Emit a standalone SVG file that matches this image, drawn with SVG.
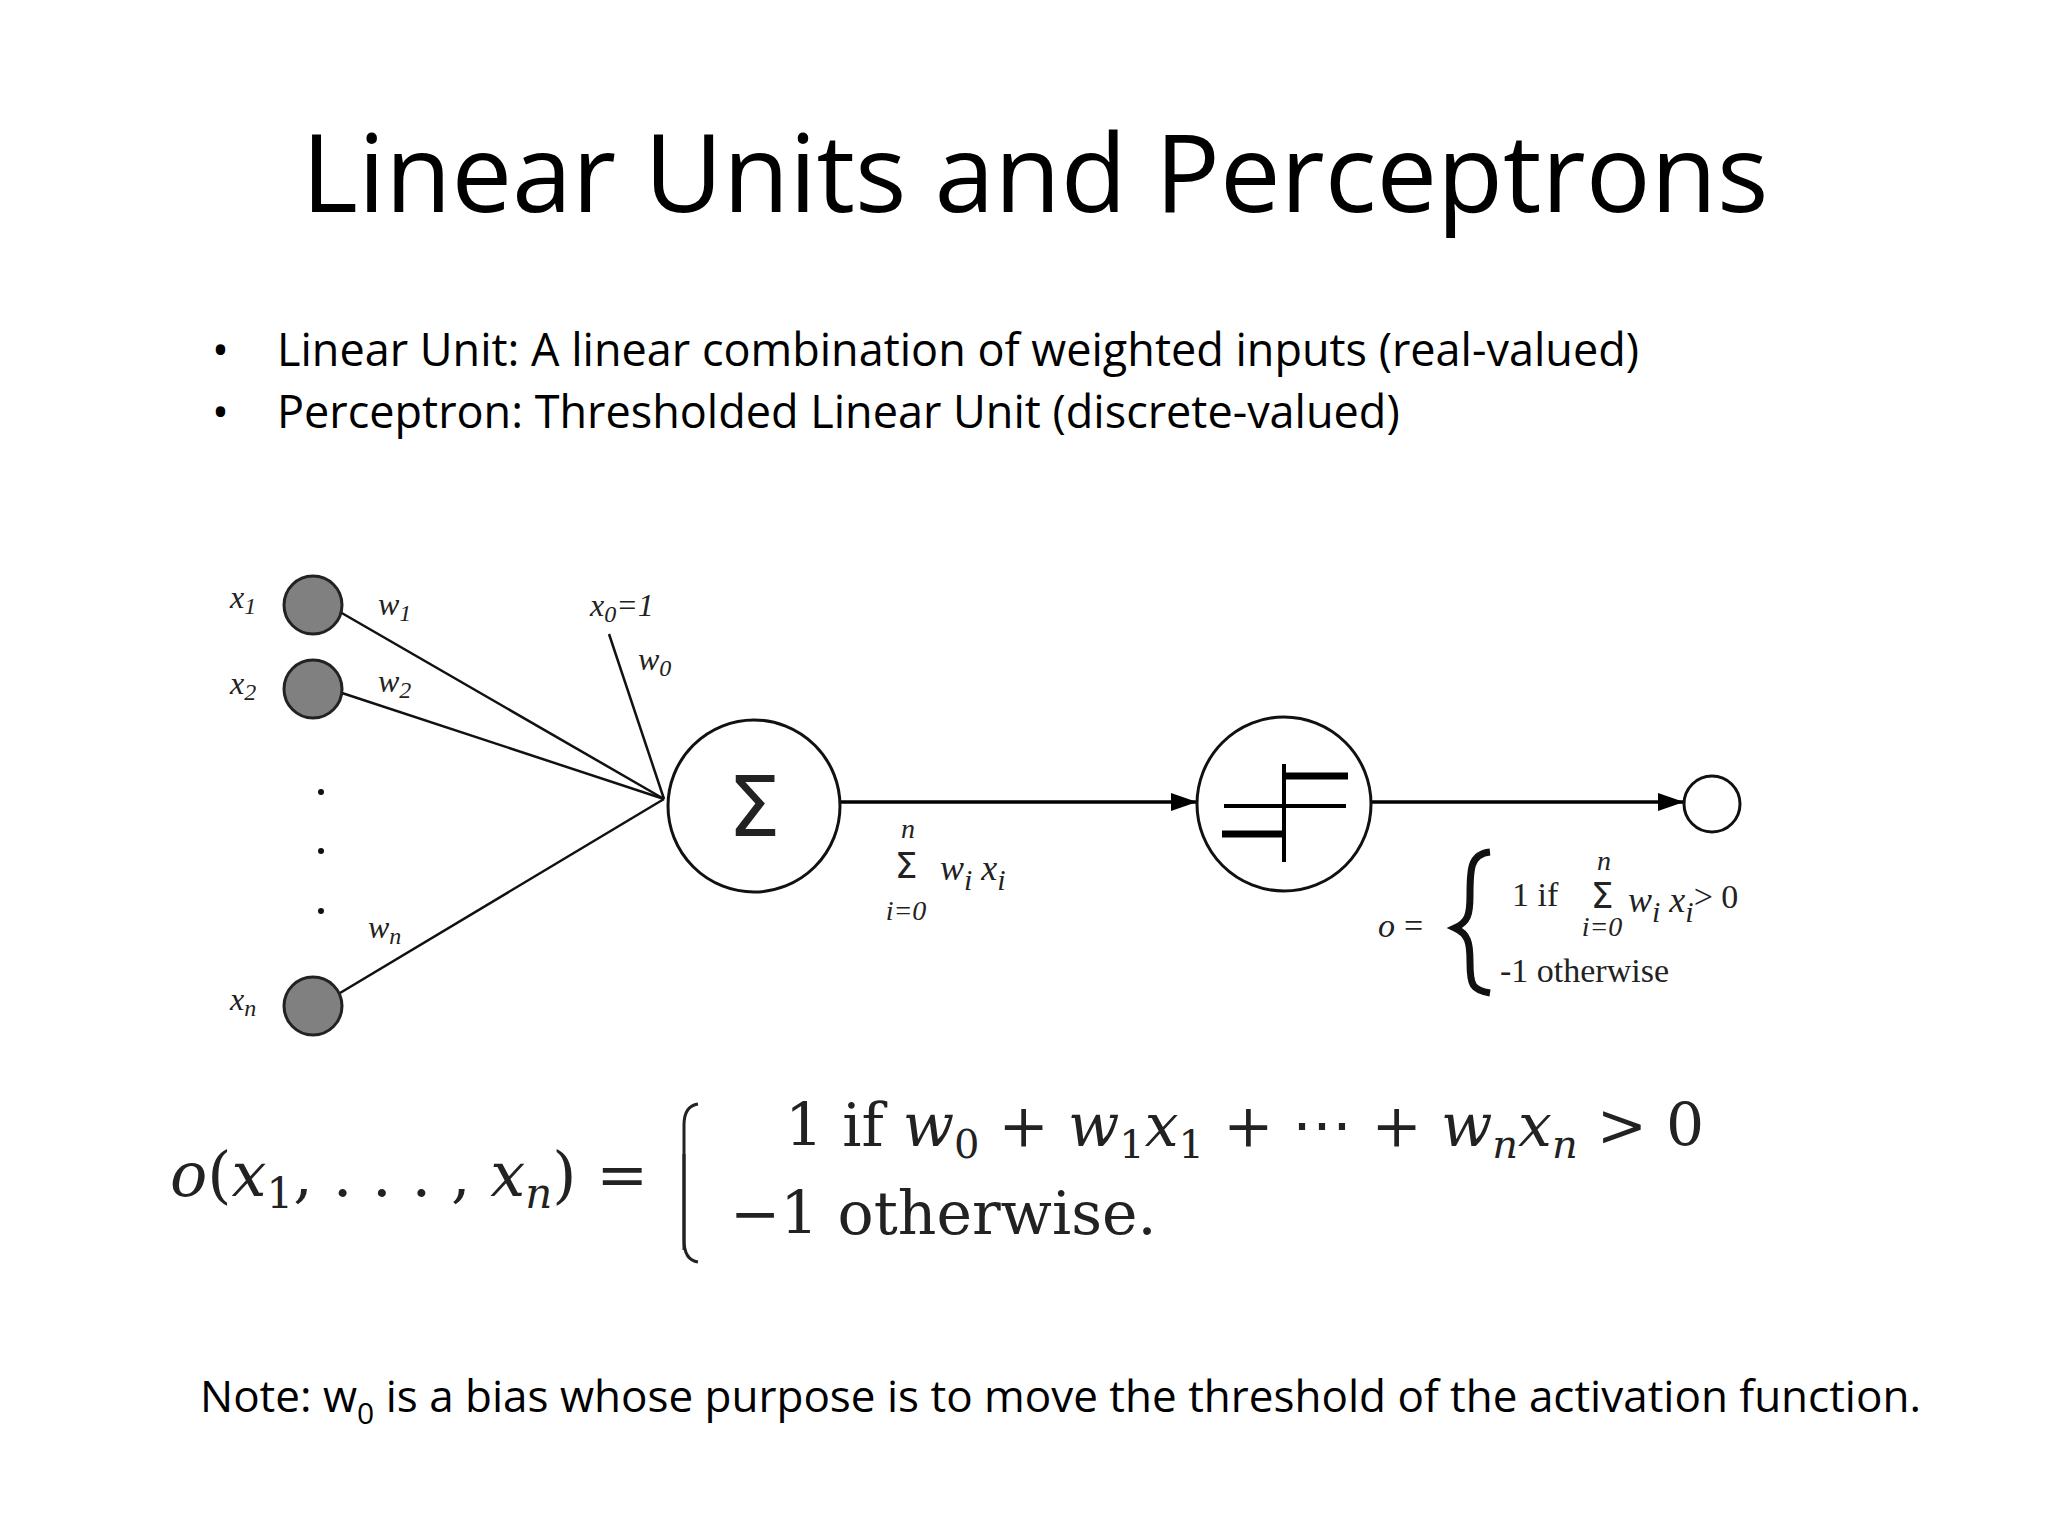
<svg xmlns="http://www.w3.org/2000/svg" width="2048" height="1536" viewBox="0 0 2048 1536">
<defs>
<marker id="ah" markerWidth="26" markerHeight="18" refX="26" refY="9" orient="auto" markerUnits="userSpaceOnUse" viewBox="0 0 26 18"><path d="M0,0 L26,9 L0,18 z" fill="#000"/></marker>
<style>
.sans{font-family:"Open Sans","Noto Sans","Liberation Sans",sans-serif;fill:#000}
.ser{font-family:"Liberation Serif","DejaVu Serif",serif;fill:#222}
.sig{font-family:"DejaVu Sans",sans-serif;fill:#222}
.it{font-style:italic}
.in{fill:#808080;stroke:#222;stroke-width:3}
.ln{stroke:#111;stroke-width:2.5;fill:none}
</style>
</defs>
<rect width="2048" height="1536" fill="#fff"/>
<text class="sans" x="1035" y="212" font-size="108" text-anchor="middle">Linear Units and Perceptrons</text>
<g class="sans" font-size="45">
<text x="212" y="366">•</text><text x="277" y="366">Linear Unit: A linear combination of weighted inputs (real-valued)</text>
<text x="212" y="428">•</text><text x="277" y="428">Perceptron: Thresholded Linear Unit (discrete-valued)</text>
</g>
<g id="connectors">
<line class="ln" x1="340" y1="612" x2="664" y2="799"/>
<line class="ln" x1="342" y1="693" x2="664" y2="799"/>
<line class="ln" x1="340" y1="993" x2="664" y2="799"/>
<line class="ln" x1="609" y1="634" x2="664" y2="799"/>
<line stroke="#000" stroke-width="3.5" x1="841" y1="802" x2="1197" y2="802" marker-end="url(#ah)"/>
<line stroke="#000" stroke-width="3.5" x1="1372" y1="802" x2="1684" y2="802" marker-end="url(#ah)"/>
</g>
<g id="x1"><circle class="in" cx="313" cy="605" r="29"/><text class="ser it" x="230" y="608" font-size="32">x<tspan font-size="24" dy="6">1</tspan></text><text class="ser it" x="378" y="615" font-size="32">w<tspan font-size="24" dy="6">1</tspan></text></g>
<g id="x2"><circle class="in" cx="313" cy="689" r="29"/><text class="ser it" x="230" y="694" font-size="32">x<tspan font-size="24" dy="6">2</tspan></text><text class="ser it" x="378" y="692" font-size="32">w<tspan font-size="24" dy="6">2</tspan></text></g>
<g id="dots" fill="#111"><circle cx="321" cy="792" r="3"/><circle cx="321" cy="851" r="3"/><circle cx="321" cy="911" r="3"/></g>
<g id="xn"><circle class="in" cx="313" cy="1006" r="29"/><text class="ser it" x="230" y="1010" font-size="32">x<tspan font-size="24" dy="6">n</tspan></text><text class="ser it" x="368" y="938" font-size="32">w<tspan font-size="24" dy="6">n</tspan></text></g>
<g id="x0"><text class="ser it" x="590" y="616" font-size="32">x<tspan font-size="24" dy="6">0</tspan><tspan dy="-6">=1</tspan></text><text class="ser it" x="638" y="670" font-size="32">w<tspan font-size="24" dy="6">0</tspan></text></g>
<g id="sum"><circle cx="754" cy="806" r="86" fill="#fff" stroke="#111" stroke-width="3"/><text class="sig" x="754" y="836" font-size="84" text-anchor="middle" fill="#000">Σ</text></g>
<g id="sumlabel">
<text class="sig" x="906" y="878" font-size="36" text-anchor="middle">Σ</text>
<text class="ser it" x="908" y="838" font-size="28" text-anchor="middle">n</text>
<text class="ser it" x="906" y="920" font-size="28" text-anchor="middle">i=0</text>
<text class="ser it" x="940" y="880" font-size="36">w<tspan font-size="30" dy="10">i</tspan><tspan dy="-10"> x</tspan><tspan font-size="30" dy="10">i</tspan></text>
</g>
<g id="step"><circle cx="1284" cy="804" r="87" fill="#fff" stroke="#111" stroke-width="3"/>
<line stroke="#000" stroke-width="4" x1="1284" y1="764" x2="1284" y2="862"/>
<line stroke="#000" stroke-width="7" x1="1282" y1="776" x2="1348" y2="776"/>
<line stroke="#000" stroke-width="4" x1="1224" y1="806" x2="1346" y2="806"/>
<line stroke="#000" stroke-width="7" x1="1222" y1="834" x2="1286" y2="834"/>
</g>
<g id="out"><circle cx="1712" cy="804" r="28" fill="#fff" stroke="#111" stroke-width="3"/></g>
<g id="outformula">
<text class="ser it" x="1378" y="937" font-size="34">o</text><text class="ser" x="1404" y="937" font-size="34">=</text>
<path d="M1490,852 C1470,854 1470,870 1470,895 C1470,915 1468,922 1455,928 C1468,934 1470,942 1470,962 C1470,985 1472,990 1490,993" fill="none" stroke="#111" stroke-width="7"/>
<text class="ser" x="1512" y="906" font-size="34">1  if</text>
<text class="sig" x="1602" y="908" font-size="36" text-anchor="middle">Σ</text>
<text class="ser it" x="1604" y="870" font-size="28" text-anchor="middle">n</text>
<text class="ser it" x="1602" y="936" font-size="28" text-anchor="middle">i=0</text>
<text class="ser it" x="1628" y="912" font-size="36">w<tspan font-size="30" dy="10">i</tspan><tspan dy="-10"> x</tspan><tspan font-size="30" dy="10">i</tspan><tspan dy="-14" font-style="normal" font-size="34">&gt; 0</tspan></text>
<text class="ser" x="1500" y="982" font-size="34">-1 otherwise</text>
</g>
<g id="bigformula" font-family="'DejaVu Serif','Liberation Serif',serif" fill="#222">
<text x="170" y="1196" font-size="62"><tspan font-style="italic">o</tspan>(<tspan font-style="italic">x</tspan><tspan font-size="42" dy="12">1</tspan><tspan dy="-12">, . . . , </tspan><tspan font-style="italic">x</tspan><tspan font-size="42" dy="12" font-style="italic">n</tspan><tspan dy="-12">) =</tspan></text>
<path d="M698,1104 Q684,1106 684,1125 L684,1250" fill="none" stroke="#222" stroke-width="3"/>
<path d="M684,1154 L684,1240 Q684,1260 698,1262" fill="none" stroke="#222" stroke-width="3"/>
<text x="785" y="1146" font-size="60">1  if  <tspan font-style="italic">w</tspan><tspan font-size="40" dy="12">0</tspan><tspan dy="-12"> + </tspan><tspan font-style="italic">w</tspan><tspan font-size="40" dy="12">1</tspan><tspan dy="-12" font-style="italic">x</tspan><tspan font-size="40" dy="12">1</tspan><tspan dy="-12"> + ⋯ + </tspan><tspan font-style="italic">w</tspan><tspan font-size="40" dy="12" font-style="italic">n</tspan><tspan dy="-12" font-style="italic">x</tspan><tspan font-size="40" dy="12" font-style="italic">n</tspan><tspan dy="-12"> &gt; 0</tspan></text>
<text x="730" y="1234" font-size="60">−1  otherwise.</text>
</g>
<text class="sans" x="200" y="1412" font-size="44">Note: w<tspan font-size="30" dy="12">0</tspan><tspan dy="-12"> is a bias whose purpose is to move the threshold of the activation function.</tspan></text>
</svg>
